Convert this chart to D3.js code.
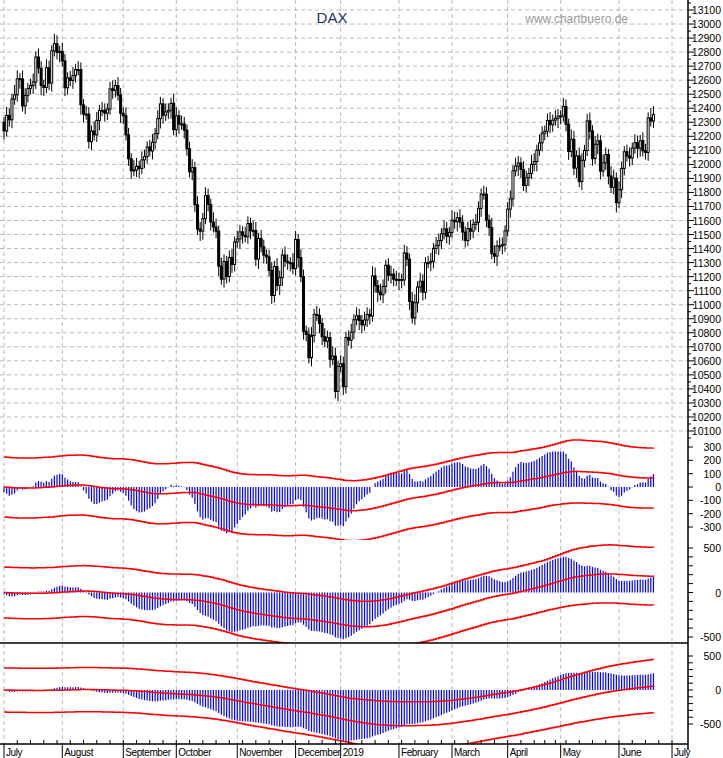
<!DOCTYPE html>
<html><head><meta charset="utf-8">
<script src="https://cdn.jsdelivr.net/npm/d3@7"></script>
<style>body{margin:0;background:#fff}svg{font-family:"Liberation Sans",Arial,sans-serif}</style>
</head><body>
<script>
// daily closes, DAX, 2 Jul 2018 .. 20 Jun 2019
let closes = [
  12238,12349,12318,12465,12496, 12610,12609,12417,12492,12541, 12561,12587,12765,12686,12562,
  12548,12689,12579,12809,12860, 12798,12805,12737,12546,12616, 12598,12633,12676,12676,12424,
  12358,12358,12162,12237,12210, 12313,12384,12385,12365,12394, 12538,12527,12562,12494,12364,
  12346,12210,12040,11955,11960, 11986,11970,12032,12055,12124, 12096,12157,12219,12326,12431,
  12350,12374,12385,12435,12247, 12346,12287,12288,12244,12111, 11947,11977,11712,11539,11524,
  11614,11777,11715,11589,11554, 11524,11275,11182,11308,11201, 11336,11287,11447,11468,11519,
  11495,11484,11579,11527,11529, 11325,11472,11413,11353,11341, 11244,11066,11272,11138,11193,
  11354,11309,11299,11298,11257, 11465,11335,11200,10811,10788, 10622,10780,10931,10924,10866,
  10772,10740,10766,10611,10634, 10382,10559, 10580,10416,10767,
  10747,10804,10893,10921,10888, 10856,10891,10931,10919,11205, 11136,11090,11071,11130,11281,
  11210,11218,11181,11173,11180, 11176,11368,11325,11022,10906, 11014,11126,11167,11089,11299,
  11299,11309,11401,11423,11457, 11505,11540,11487,11515,11602, 11592,11620,11588,11517,11457,
  11543,11524,11572,11587,11686, 11788,11788,11603,11550,11364, 11346,11419,11419,11428,11526,
  11681,11754,11954,11988,12010, 11964,11850,11905,11935,11999, 12020,12101,12153,12222,
  12236,12313,12282,12315, 12328,12344,12345,12413,
  12286,12092,12179,11973,12060, 11877,12029,12099,12310,12238, 12041,12143,12168,11952,12011,
  12070,11917,11837,11902,11727, 11820,11971,12090,12060,12045, 12116,12155,12115,12169,12096,
  12085,12331,12309,12355
];
// average level before the first visible day (seed for the averages)
let priorLevel = 12550;
// daily high / low excursions beyond the candle body (points)
let wickUp = [40,60,50,40,70, 60,40,60,50,40, 50,60,40,60,50];
let wickDown = [60,40,50,60,40, 50,70,40,60,50, 40,60,50,40,70];
let holidays = ["2018-12-24","2018-12-25","2018-12-26","2018-12-31","2019-01-01","2019-04-19","2019-04-22","2019-05-01"];
let monthNames = ["2019","February","March","April","May","June","July","August","September","October","November","December"];
let priceTicks = d3.range(10100, 13101, 100);
let osc1Ticks = [300,200,100,0,-100,-200,-300];
let osc2Ticks = [500,0,-500];
let osc3Ticks = [500,0,-500];

const W = 723, H = 758, axisX = 688;
const svg = d3.select("body").append("svg").attr("width", W).attr("height", H);

// trading dates
let dates = [];
let d = new Date(2018, 6, 2);
const fmt = d3.timeFormat("%Y-%m-%d");
while (dates.length < closes.length + 10) {
  let wd = d.getDay();
  if (wd > 0 && wd < 6 && !holidays.includes(fmt(d))) dates.push(new Date(d));
  d = d3.timeDay.offset(d, 1);
}
const idxJun = dates.findIndex(t => t.getMonth() === 5 && t.getFullYear() === 2019);
const x = d3.scaleLinear().domain([0, idxJun]).range([4, 619]);

// price scale
const yP = d3.scaleLinear().domain([10100, 13100]).range([431, 10]);

// indicators
function ema(arr, n, seed) {
  let k = 2 / (n + 1), out = [], v = seed === undefined ? arr[0] : seed;
  arr.forEach(a => { v = a * k + v * (1 - k); out.push(v); });
  return out;
}
function macd(a, b) {
  let e1 = ema(closes, a, priorLevel), e2 = ema(closes, b, priorLevel);
  return e1.map((v, i) => v - e2[i]);
}
function bands(osc, nMid, minSd, k) {
  let mid = ema(osc, nMid, 0);
  return osc.map((v, i) => {
    let sd = Math.max(d3.deviation(osc.slice(0, i + 1)) || 0, minSd);
    return {m: mid[i], u: mid[i] + k * sd, l: mid[i] - k * sd};
  });
}
let osc1 = macd(10, 30);
let osc2 = macd(20, 70);
let osc3 = macd(40, 160);

const panels = [
  {osc: osc1, y: d3.scaleLinear().domain([-300, 300]).range([527, 447]), clip: [436, 540], ticks: osc1Ticks, b: bands(osc1, 80, 150, 1.5)},
  {osc: osc2, y: d3.scaleLinear().domain([-500, 500]).range([637, 548]), clip: [540, 643], ticks: osc2Ticks, b: bands(osc2, 60, 220, 1.3)},
  {osc: osc3, y: d3.scaleLinear().domain([-500, 500]).range([724, 656]), clip: [643, 744], ticks: osc3Ticks, b: bands(osc3, 80, 250, 1.3)}
];

// grid
const monthStarts = [];
dates.forEach((t, i) => { if (i === 0 || t.getMonth() !== dates[i - 1].getMonth()) monthStarts.push(i); });
svg.append("g").selectAll("line").data(monthStarts).join("line")
  .attr("x1", i => x(i)).attr("x2", i => x(i)).attr("y1", 0).attr("y2", 744)
  .attr("stroke", "#bbb").attr("stroke-dasharray", "4,3");
svg.append("g").selectAll("line").data(priceTicks).join("line")
  .attr("x1", 0).attr("x2", axisX).attr("y1", v => yP(v)).attr("y2", v => yP(v))
  .attr("stroke", "#bbb").attr("stroke-dasharray", "4,3");

// titles
svg.append("text").attr("x", 332).attr("y", 23).attr("text-anchor", "middle")
  .attr("font-size", 15).attr("fill", "#1b3566").text("DAX");
svg.append("text").attr("x", 628).attr("y", 23).attr("text-anchor", "end")
  .attr("font-size", 12).attr("fill", "#999").text("www.chartbuero.de");

// candles
let ohlc = closes.map((c, i) => {
  let o = i === 0 ? 12300 : closes[i - 1];
  return {i, o, c, h: Math.max(o, c) + wickUp[i % 15], l: Math.min(o, c) - wickDown[i % 15]};
});
const cg = svg.append("g");
cg.selectAll("line").data(ohlc).join("line")
  .attr("x1", d => x(d.i)).attr("x2", d => x(d.i))
  .attr("y1", d => yP(d.h)).attr("y2", d => yP(d.l))
  .attr("stroke", "#000").attr("stroke-width", 1);
cg.selectAll("rect").data(ohlc).join("rect")
  .attr("x", d => x(d.i) - 1).attr("width", 2)
  .attr("y", d => yP(Math.max(d.o, d.c)))
  .attr("height", d => Math.max(1, Math.abs(yP(d.o) - yP(d.c))))
  .attr("fill", d => d.c >= d.o ? "#fff" : "#000")
  .attr("stroke", "#000").attr("stroke-width", 1);

// oscillator panels
panels.forEach((p, n) => {
  svg.append("clipPath").attr("id", "c" + n).append("rect")
    .attr("x", 0).attr("y", p.clip[0]).attr("width", axisX).attr("height", p.clip[1] - p.clip[0]);
  const g = svg.append("g").attr("clip-path", `url(#c${n})`);
  g.selectAll("line").data(p.osc).join("line")
    .attr("x1", (v, i) => x(i)).attr("x2", (v, i) => x(i))
    .attr("y1", p.y(0)).attr("y2", v => p.y(v))
    .attr("stroke", "#0000ff").attr("stroke-width", 1.2);
  ["u", "m", "l"].forEach(k => {
    g.append("path").datum(p.b)
      .attr("d", d3.line().x((v, i) => x(i)).y(v => p.y(v[k])).curve(d3.curveStepAfter))
      .attr("fill", "none").attr("stroke", "#ff0000").attr("stroke-width", 1.5);
  });
  const a = svg.append("g");
  a.selectAll("text").data(p.ticks).join("text")
    .attr("x", 721).attr("y", v => p.y(v) + 4).attr("text-anchor", "end")
    .attr("font-size", 10.5).text(v => v);
  const tks = d3.range(p.y.domain()[0], p.y.domain()[1] + 1, (p.y.domain()[1] - p.y.domain()[0]) / (p.ticks.length === 3 ? 10 : 6));
  a.selectAll("line").data(tks).join("line")
    .attr("x1", axisX).attr("x2", axisX + 5).attr("y1", v => p.y(v)).attr("y2", v => p.y(v)).attr("stroke", "#000");
});

// right axis, price
const ag = svg.append("g");
ag.selectAll("text").data(priceTicks).join("text")
  .attr("x", 721).attr("y", v => yP(v) + 4).attr("text-anchor", "end")
  .attr("font-size", 10.5).text(v => v);
ag.selectAll("line").data(d3.range(10050, 13151, 50)).join("line")
  .attr("x1", axisX).attr("x2", v => axisX + (v % 100 === 0 ? 6 : 3))
  .attr("y1", v => yP(v)).attr("y2", v => yP(v)).attr("stroke", "#000");

svg.append("line").attr("x1", axisX).attr("x2", axisX).attr("y1", 0).attr("y2", 750).attr("stroke", "#000").attr("stroke-width", 1.5);
svg.append("line").attr("x1", 0).attr("x2", axisX).attr("y1", 643).attr("y2", 643).attr("stroke", "#000").attr("stroke-width", 1.5);
svg.append("line").attr("x1", 0).attr("x2", axisX).attr("y1", 744).attr("y2", 744).attr("stroke", "#000").attr("stroke-width", 1.5);

// bottom axis
const weekStarts = [];
dates.forEach((t, i) => { if (i > 0 && t.getDay() < dates[i - 1].getDay()) weekStarts.push(i); });
svg.append("g").selectAll("line").data(weekStarts).join("line")
  .attr("x1", i => x(i)).attr("x2", i => x(i)).attr("y1", 740).attr("y2", 744).attr("stroke", "#000");
svg.append("g").selectAll("line").data(monthStarts).join("line")
  .attr("x1", i => x(i)).attr("x2", i => x(i)).attr("y1", 744).attr("y2", 758).attr("stroke", "#000");
svg.append("g").selectAll("text").data(monthStarts.filter(i => x(i) < axisX)).join("text")
  .attr("x", i => x(i) + 2).attr("y", 756).attr("font-size", 10).attr("letter-spacing", -0.4)
  .text(i => monthNames[dates[i].getMonth()]);
</script>
</body></html>
